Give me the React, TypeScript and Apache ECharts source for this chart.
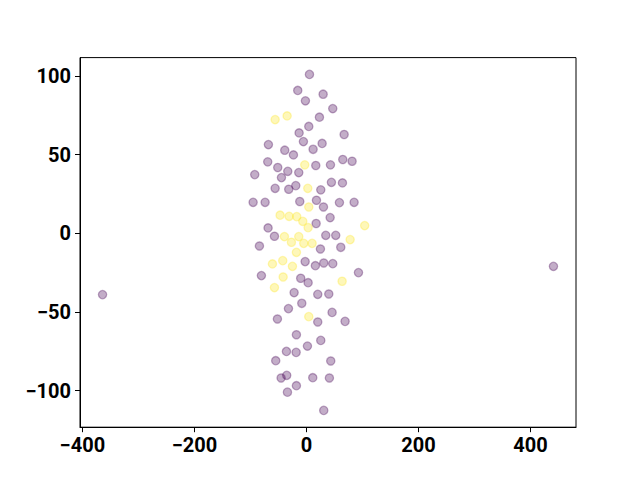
import React, { useEffect, useRef } from "react";
import * as echarts from "echarts";

const purplePoints: [number, number][] = [
  [5.4, 101], [-15.5, 90.8], [29.8, 88.4], [-1.8, 84.2], [47, 79.3], [23.2, 73.8],
  [4.2, 67.9], [-13.1, 63.8], [67.3, 62.8], [-67.9, 56.4], [-5.4, 58.3], [28, 57.1],
  [-38.7, 52.8], [11.9, 53.4], [-23.2, 49.8], [-69.1, 45.4], [-51.2, 41.8], [-33.3, 39.4],
  [-13.7, 38.6], [16.7, 43.1], [42.9, 43.5], [64.9, 46.9], [81.5, 45.8], [-92.3, 37.3],
  [-44.6, 35.4], [-55.9, 28.6], [-31.6, 28], [-19, 30.3], [25.6, 27.6], [44.6, 32.4],
  [64.3, 32], [-95.2, 19.7], [-73.8, 19.7], [-11.9, 20.2], [17.9, 21], [30.4, 16.7],
  [58.9, 19.5], [85.1, 19.7], [17.3, 6.2], [42.3, 10], [-68.5, 3.4], [-57.1, -1.9],
  [34.5, -1.3], [52.3, -1.3], [25, -10], [61.3, -8.9], [-83.9, -8.1], [-2.3, -18],
  [16, -20.6], [30.9, -18.9], [47, -19.3], [-80.4, -26.9], [-10.2, -28.6], [3, -31.4],
  [92.9, -25], [-22, -37.7], [20.2, -38.8], [39.9, -38.6], [-32.1, -47.9], [-8.3, -44.5],
  [20.2, -56.4], [45.8, -50.3], [69, -56], [-51.8, -54.5], [-17.9, -64.5], [25.6, -68.1],
  [1.8, -71.7], [-35.7, -75.1], [-18.4, -75.7], [-54.8, -81], [43.4, -81.2], [-45.2, -92],
  [-35.2, -90.3], [11.3, -91.8], [41, -92], [-17.9, -96.9], [-33.9, -101], [30.9, -112.6],
  [-364, -39], [441, -21],
];

const yellowPoints: [number, number][] = [
  [-34.5, 74.6], [-55.9, 72.3], [-3, 43.5], [2.4, 28.6], [4.2, 16.7], [-47, 11.5],
  [-30.9, 10.8], [-17.3, 10.6], [-6.5, 7.6], [3, 3.6], [104, 4.9], [-39.3, -2.1],
  [-13.7, -2.1], [-26.8, -5.7], [-4.8, -6.4], [10.1, -6.4], [-17.9, -12.1], [78, -4],
  [-60.7, -19.5], [-42.3, -17.4], [-25, -21], [-41.6, -27.8], [63.7, -30.5], [-57.1, -34.5],
  [4.2, -53],
];

const xTicks = [-400, -200, 0, 200, 400];
const yTicks = [-100, -50, 0, 50, 100];

function paddedRange(vals: number[]): [number, number] {
  const lo = Math.min(...vals);
  const hi = Math.max(...vals);
  const m = (hi - lo) * 0.05;
  return [lo - m, hi + m];
}

export default function App() {
  const ref = useRef<HTMLDivElement>(null);
  useEffect(() => {
    if (!ref.current) return;
    const chart = echarts.init(ref.current, undefined, { renderer: "svg" });
    const all = [...purplePoints, ...yellowPoints];
    const [xmin, xmax] = paddedRange(all.map((p) => p[0]));
    const [ymin, ymax] = paddedRange(all.map((p) => p[1]));
    const fmt = (v: number) => String(v).replace("-", "\u2212");
    const labelStyle = {
      fontFamily: "Roboto",
      fontWeight: "bold" as const,
      fontSize: 20,
      color: "#000",
      formatter: fmt,
    };
    chart.setOption({
      animation: false,
      backgroundColor: "#fff",
      grid: {
        left: 80,
        right: 64,
        top: 57.6,
        bottom: 52.8,
        show: true,
        borderColor: "#000",
        borderWidth: 1,
        backgroundColor: "transparent",
      },
      xAxis: {
        type: "value",
        min: xmin,
        max: xmax,
        splitLine: { show: false },
        axisLine: { show: true, onZero: false, lineStyle: { color: "#000", width: 1 } },
        axisTick: { show: true, length: 5, customValues: xTicks, lineStyle: { color: "#000" } },
        axisLabel: { ...labelStyle, margin: 8, customValues: xTicks, showMinLabel: true, showMaxLabel: true },
      },
      yAxis: {
        type: "value",
        min: ymin,
        max: ymax,
        splitLine: { show: false },
        axisLine: { show: true, onZero: false, lineStyle: { color: "#000", width: 1 } },
        axisTick: { show: true, length: 5, customValues: yTicks, lineStyle: { color: "#000" } },
        axisLabel: { ...labelStyle, margin: 9, customValues: yTicks },
      },
      series: [
        {
          type: "scatter",
          data: purplePoints,
          symbolSize: 8.3,
          itemStyle: {
            color: "rgba(68,1,84,0.4)",
            borderColor: "rgba(68,1,84,0.4)",
            borderWidth: 1.3,
          },
        },
        {
          type: "scatter",
          data: yellowPoints,
          symbolSize: 8.3,
          itemStyle: {
            color: "rgba(253,231,37,0.4)",
            borderColor: "rgba(253,231,37,0.4)",
            borderWidth: 1.3,
          },
        },
      ],
    });
    return () => chart.dispose();
  }, []);
  return <div ref={ref} style={{ width: 640, height: 480, position: "absolute", left: 0, top: 0 }} />;
}
